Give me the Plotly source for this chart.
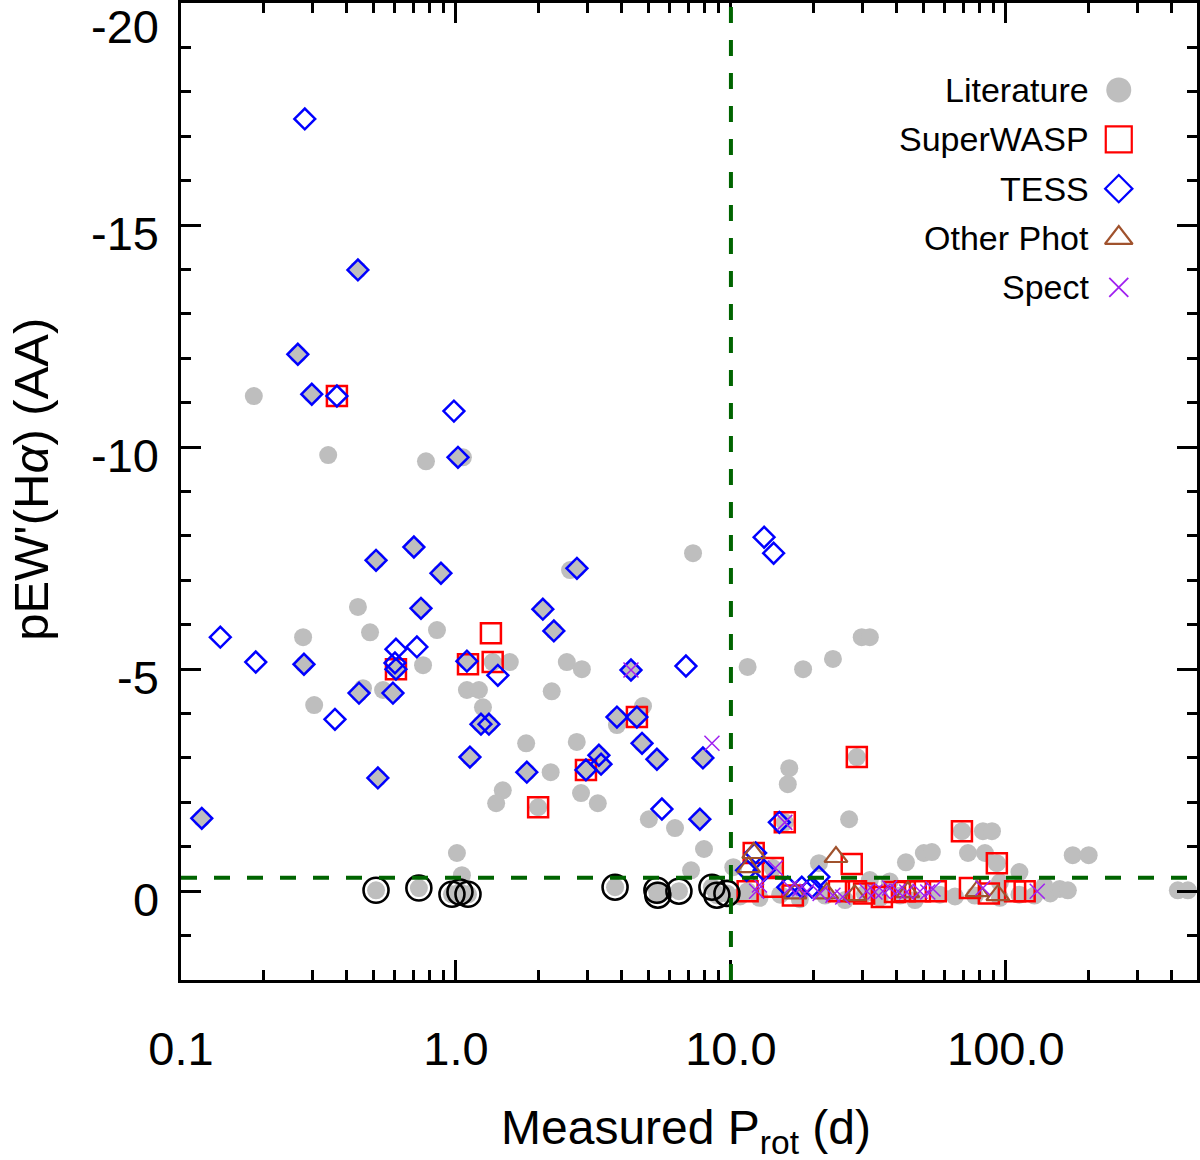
import plotly.graph_objects as go

# Literature values (rotation period in d, pEW'(Halpha) in AA)
lit_p = [0.184, 0.343, 0.778, 1.06, 0.278, 0.305, 0.44, 0.487, 0.459, 0.543, 0.853, 0.759,
         1.096, 1.212, 1.254, 1.48, 1.40, 1.008, 1.051, 1.57, 2.53, 2.87, 2.23, 1.80, 2.75,
         2.21, 2.85, 3.28, 2.6, 4.79, 3.85, 5.03, 6.26, 7.28, 7.98, 7.16, 10.2, 11.5, 18.3,
         23.5, 29.9, 32.0, 16.3, 16.1, 26.9, 82.5, 89.0, 20.9, 43.3, 50.3, 53.8, 72.8, 83.9,
         112, 175, 200, 422, 459,
         10.8, 12.7, 15.1, 17.8, 22.0, 26.0, 30.7, 34.8, 41.2, 46.7, 57.5, 65.3, 77.1, 95.1,
         112, 127, 145, 157, 168, 32.0, 37.8, 95.1, 138,
         0.119, 0.266, 0.28, 0.299, 0.44, 0.444, 0.512, 0.52, 0.605, 0.59, 0.746, 0.703, 0.882,
         1.017, 1.096, 1.233, 1.318, 1.124, 2.07, 2.27, 2.754, 1.81, 2.97, 3.31, 3.37, 3.85,
         4.55, 4.75, 5.38, 4.33, 7.91, 7.71,
         1.36, 1.99, 28.7, 15.7, 69.2, 92.7, 14.2, 11.5,
         0.512, 0.733, 0.967, 1.034, 1.106, 3.79, 5.38, 5.42, 6.47, 8.53, 8.89, 9.67]
lit_ew = [-11.15, -9.82, -9.68, -9.77, -5.72, -4.19, -6.40, -5.83, -4.57, -4.53, -5.88, -5.09,
          -4.53, -4.53, -4.14, -2.27, -1.98, -0.86, -0.36, -5.16, -5.16, -5.0, -4.50, -3.33, -3.36,
          -2.68, -2.21, -1.98, -7.23, -4.17, -3.74, -1.62, -1.42, -7.61, -0.95, -0.47, -0.54, -5.05, -5.0,
          -5.23, -5.72, -5.72, -2.77, -2.41, -1.62, -1.35, -1.35, -0.63, -0.65, -0.86, -0.88, -0.86, -0.86,
          -0.43, -0.81, -0.81, -0.02, -0.02,
          0.12, 0.15, 0.08, 0.18, 0.1, 0.2, 0.06, 0.15, 0.1, 0.2, 0.08, 0.12, 0.1, 0.15,
          0.08, 0.1, 0.05, -0.05, -0.02, -0.25, -0.22, -0.2, -0.12,
          -1.64, -12.09, -5.11, -11.19, -13.99, -4.46, -7.45, -2.55, -5.0, -4.46, -6.37, -7.75, -7.16,
          -9.77, -5.18, -3.76, -3.76, -3.02, -6.35, -5.86, -7.27, -2.68, -2.73, -3.06, -2.86, -3.92,
          -3.92, -3.33, -2.97, -4.98, -3.0, -1.62,
          -5.16, -1.89, -3.02, -1.55, -1.35, -0.63, -0.52, 0.0,
          -0.02, -0.07, 0.07, 0.02, 0.07, -0.09, -0.02, 0.09, 0.0, -0.09, 0.09, 0.05]

# SuperWASP
swasp_p = [0.369, 0.605, 1.106, 1.34, 1.36, 2.97, 4.55, 1.99, 28.7, 15.7, 69.2, 12.1, 27.5,
           92.7, 14.2, 11.5, 14.2, 16.8, 24.7, 28.5, 35.4, 42.9, 48.7, 55.6, 74, 86.7, 108, 117,
           30.5, 39.5]
swasp_ew = [-11.15, -5.0, -5.11, -5.81, -5.16, -2.73, -3.92, -1.89, -3.02, -1.55, -1.35, -0.86, -0.61,
            -0.63, -0.52, 0.0, -0.1, 0.1, 0.0, 0.0, 0.13, 0.0, 0.0, 0.0, -0.07, 0.05, 0.0, 0.0,
            0.05, 0.02]

# TESS
tess_p = [0.119, 0.139, 0.187, 0.266, 0.282, 0.28, 0.299, 0.369, 0.363, 0.44, 0.444, 0.512,
          0.52, 0.605, 0.6, 0.605, 0.59, 0.721, 0.746, 0.703, 0.882, 0.983, 1.017, 1.096, 1.42,
          1.233, 1.318, 1.124, 2.07, 2.27, 2.754, 1.81, 2.97, 3.31, 3.37, 3.85, 4.55, 4.75, 5.38,
          4.33, 6.86, 5.61, 7.91, 7.71, 13.2, 14.3, 15.0, 12.3, 11.4, 13.2, 20.9, 16.1, 18.1, 19.7]
tess_ew = [-1.64, -5.72, -5.16, -12.09, -17.39, -5.11, -11.19, -11.15, -3.87, -13.99, -4.46, -7.45,
           -2.55, -5.45, -5.14, -5.0, -4.46, -5.50, -6.37, -7.75, -7.16, -10.81, -9.77, -5.18, -4.86,
           -3.76, -3.76, -3.02, -6.35, -5.86, -7.27, -2.68, -2.73, -3.06, -2.86, -3.92, -3.92, -3.33, -2.97,
           -4.98, -5.07, -1.85, -3.0, -1.62, -7.97, -7.61, -1.55, -0.86, -0.47, -0.47, -0.32, -0.09, -0.09, -0.09]

# Other photometry
oth_p = [12.1, 24.1, 11.6, 17.1, 22.3, 28.2, 44.0, 78.5, 93.5]
oth_ew = [-0.86, -0.77, -0.54, 0.05, 0.05, 0.09, 0.02, 0.0, 0.09]

# Spectroscopic
spec_p = [4.33, 8.53, 15.7, 14.5, 12.4, 16.4, 17.8, 18.9, 21.1, 23.5, 25.5, 31.2, 33.4, 35.7,
          37.8, 40.5, 43.6, 48.7, 52.0, 54.3, 82.5, 130, 12.7]
spec_ew = [-4.98, -3.33, -1.55, -0.52, 0.0, -0.07, -0.05, 0.0, 0.05, 0.09, 0.13, 0.0, 0.02, 0.0,
           -0.07, 0.0, 0.02, 0.0, 0.02, -0.05, -0.07, 0.0, -0.14]

# black open circles
blk_p = [0.512, 0.733, 0.967, 1.034, 1.106, 3.79, 5.38, 5.42, 6.47, 8.53, 8.89, 9.67]
blk_ew = [-0.02, -0.07, 0.07, 0.02, 0.07, -0.09, -0.02, 0.09, 0.0, -0.09, 0.09, 0.05]

ytick_vals = [-20, -15, -10, -5, 0]
xtick_vals = [0.1, 1, 10, 100]
xtick_text = ['0.1', '1.0', '10.0', '100.0']
xminor = [0.2, 0.3, 0.4, 0.5, 0.6, 0.7, 0.8, 0.9, 2, 3, 4, 5, 6, 7, 8, 9,
          20, 30, 40, 50, 60, 70, 80, 90, 200, 300, 400]

leg_names = ['Literature', 'SuperWASP', 'TESS', 'Other Phot', 'Spect']

FONT = 'Liberation Sans, Arial, sans-serif'
GREEN = '#006400'

fig = go.Figure()

fig.add_trace(go.Scatter(x=lit_p, y=lit_ew, mode='markers', name='Literature',
                         marker=dict(symbol='circle', size=18, color='#BEBEBE',
                                     line=dict(width=0))))
fig.add_trace(go.Scatter(x=swasp_p, y=swasp_ew, mode='markers', name='SuperWASP',
                         marker=dict(symbol='square-open', size=20, color='#FF0000',
                                     line=dict(width=2.5))))
fig.add_trace(go.Scatter(x=tess_p, y=tess_ew, mode='markers', name='TESS',
                         marker=dict(symbol='diamond-open', size=16, color='#0000FF',
                                     line=dict(width=2.5))))
fig.add_trace(go.Scatter(x=oth_p, y=oth_ew, mode='markers', name='Other Phot',
                         marker=dict(symbol='triangle-up-open', size=20, color='#A0522D',
                                     line=dict(width=2.2))))
fig.add_trace(go.Scatter(x=spec_p, y=spec_ew, mode='markers', name='Spect',
                         marker=dict(symbol='x-thin-open', size=15, color='#A020F0',
                                     line=dict(width=1.5))))
fig.add_trace(go.Scatter(x=blk_p, y=blk_ew, mode='markers', name='limits',
                         marker=dict(symbol='circle-open', size=25, color='black',
                                     line=dict(width=2.6))))

# key drawn in its own overlay axes, symbol to the right of the text
leg_sym = ['circle', 'square-open', 'diamond-open', 'triangle-up-open', 'x-thin-open']
leg_col = ['#BEBEBE', '#FF0000', '#0000FF', '#A0522D', '#A020F0']
leg_size = [25, 26, 21, 24, 19]
leg_lw = [0, 2.2, 2.2, 2.2, 1.8]
leg_y = [0.911 - i * 0.0505 for i in range(len(leg_names))]
for i, nm in enumerate(leg_names):
    fig.add_trace(go.Scatter(x=[0.923], y=[leg_y[i]], xaxis='x2', yaxis='y2', mode='markers',
                             marker=dict(symbol=leg_sym[i], size=leg_size[i], color=leg_col[i],
                                         line=dict(width=leg_lw[i])),
                             hoverinfo='skip'))
    fig.add_annotation(x=0.896, y=leg_y[i], xref='paper', yref='paper', text=nm,
                       showarrow=False, xanchor='right', yanchor='middle',
                       font=dict(family=FONT, size=34, color='black'))

fig.add_hline(y=-0.3, line=dict(color=GREEN, width=4, dash='16px,17px'), layer='above')
fig.add_vline(x=10, line=dict(color=GREEN, width=4, dash='16px,17px'), layer='above')

# y tick labels sit a little below their ticks
for v in ytick_vals:
    fig.add_annotation(x=0, y=v, xref='paper', yref='y', text=str(v), showarrow=False,
                       xanchor='right', yanchor='middle', xshift=-20,
                       yshift=-23 if v == -20 else -8,
                       font=dict(family=FONT, size=47, color='black'))

fig.add_annotation(x=-0.1476, y=0.512, xref='paper', yref='paper',
                   text="pEW'(H<i>α</i>) (AA)", textangle=-90, showarrow=False,
                   xanchor='center', yanchor='middle',
                   font=dict(family=FONT, size=49, color='black'))
fig.add_annotation(x=0.497, y=-0.187, xref='paper', yref='paper',
                   text='Measured P<sub>rot</sub> (d)', showarrow=False,
                   xanchor='center', yanchor='bottom',
                   font=dict(family=FONT, size=48, color='black'))

fig.update_layout(
    width=1200, height=1160,
    margin=dict(l=181, r=3, t=3, b=180, autoexpand=False),
    paper_bgcolor='white', plot_bgcolor='white',
    showlegend=False,
    font=dict(family=FONT, size=47, color='black'),
    xaxis=dict(type='log', range=[-1, 2.695], tickvals=xtick_vals, ticktext=xtick_text,
               ticks='inside', ticklen=20, tickwidth=2.5, tickcolor='black',
               minor=dict(tickvals=xminor, ticks='inside', ticklen=10, tickwidth=2.5,
                          tickcolor='black'),
               showline=True, linewidth=2.5, linecolor='black', mirror='allticks',
               showgrid=False, zeroline=False, ticklabelstandoff=26, automargin=False,
               tickfont=dict(family=FONT, size=47, color='black')),
    yaxis=dict(range=[2, -20], tickvals=ytick_vals, showticklabels=False,
               ticks='inside', ticklen=20, tickwidth=2.5, tickcolor='black',
               minor=dict(dtick=1, ticks='inside', ticklen=10, tickwidth=2.5, tickcolor='black'),
               showline=True, linewidth=2.5, linecolor='black', mirror='allticks',
               showgrid=False, zeroline=False, automargin=False),
    xaxis2=dict(overlaying='x', range=[0, 1], visible=False),
    yaxis2=dict(overlaying='y', range=[0, 1], visible=False),
)

fig.write_html('out.html', config={'displayModeBar': False},
               post_script="document.body.style.margin='0';")
